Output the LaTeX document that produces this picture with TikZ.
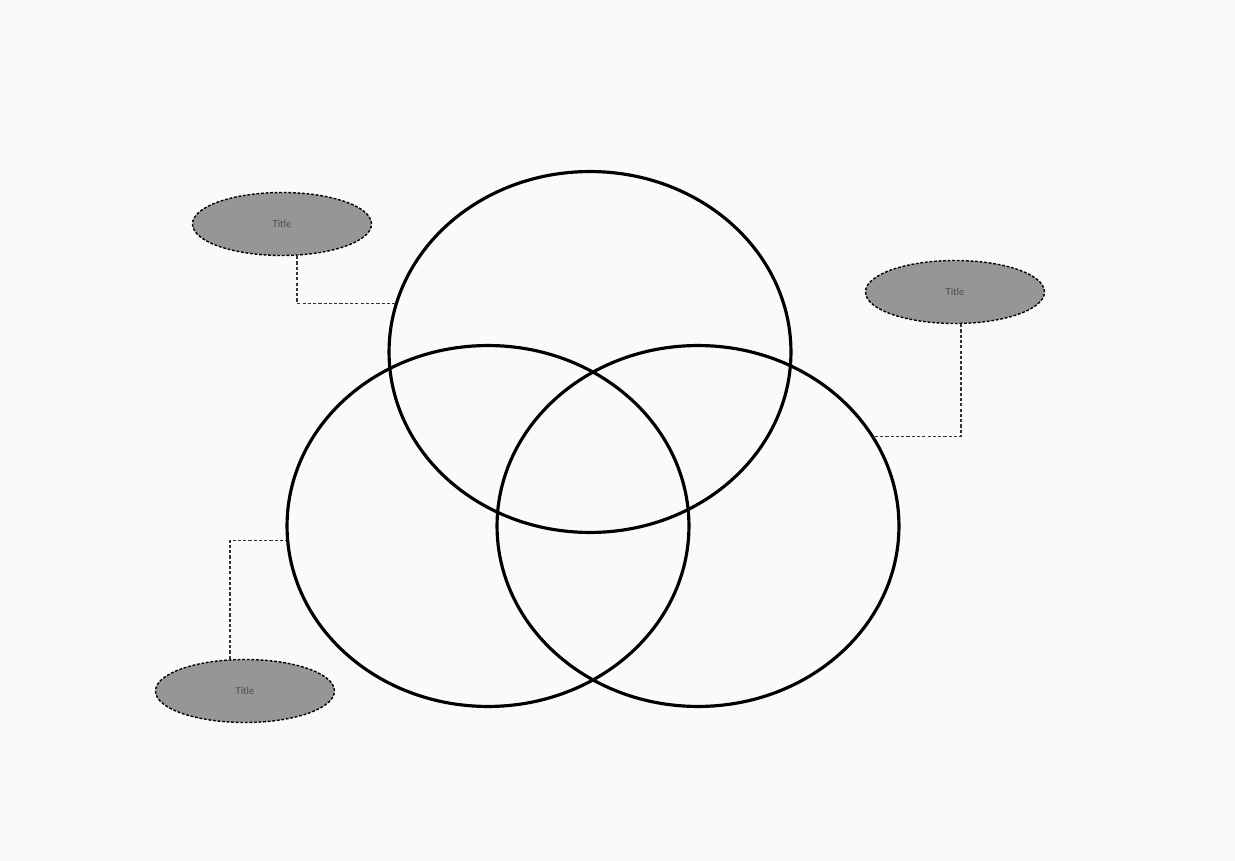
\documentclass[tikz,border=0pt]{standalone}
\usepackage{fontspec}
\setsansfont{Carlito}
\usepackage{xcolor}
\usetikzlibrary{shapes.geometric,positioning}

\begin{document}
\begin{tikzpicture}[
  x=0.02cm, y=-0.02cm,
  ring/.style={draw, ellipse, line width=1.8pt, minimum width=8.04cm, minimum height=7.22cm, inner sep=0pt},
  tag/.style={draw, ellipse, line width=0.8pt, dash pattern=on 1.6pt off 1pt, fill=gray!82, minimum width=3.58cm, minimum height=1.26cm, inner sep=0pt, font=\sffamily\fontsize{6}{7}\selectfont, text=black!70},
  link/.style={line width=0.6pt, dash pattern=on 1.8pt off 1.2pt, black!80}
]
  \fill[gray!4] (0,0) rectangle (1235,861);
  \useasboundingbox (0,0) rectangle (1235,861);

  % the three sets
  \node[ring] (top) at (590,352) {};
  \node[ring] (left) at (488,526) {};
  \node[ring] (right) at (698,526) {};

  % labels
  \node[tag] (tl) at (282,224) {Title};
  \node[tag] (tr) at (955,292) {Title};
  \node[tag] (bl) at (245,691) {Title};

  \draw[link] ([xshift=0.3cm]tl.south) |- (top.166);
  \draw[link] ([xshift=0.12cm]tr.south) |- (right.27);
  \draw[link] ([xshift=-0.3cm]bl.north) |- (left.184);
\end{tikzpicture}
\end{document}
